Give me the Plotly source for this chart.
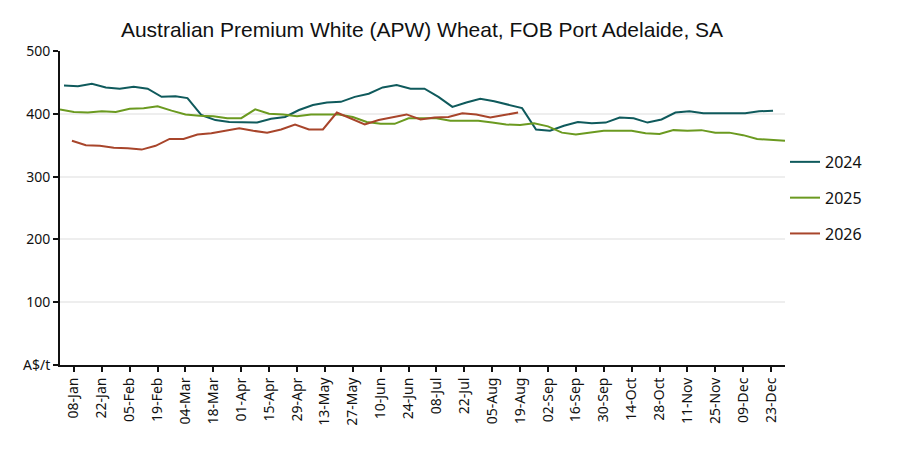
import pandas as pd
import plotly.graph_objects as go

# Weekly prices (A$/t)
apw_2024 = [445, 444, 448, 442, 440, 443, 440, 427, 428, 425,
            398, 390, 387, 386, 386, 392, 395, 406, 414, 418,
            419, 427, 432, 442, 446, 440, 440, 427, 411, 418,
            424, 420, 414, 409, 375, 373, 381, 387, 385, 386,
            394, 393, 386, 391, 402, 404, 401, 401, 401, 401,
            404, 405]
apw_2025 = [407, 403, 402, 404, 403, 408, 409, 412, 405, 399,
            397, 396, 393, 393, 407, 400, 399, 396, 399, 399,
            399, 395, 387, 384, 384, 393, 393, 393, 389, 389,
            389, 386, 383, 382, 385, 380, 370, 367, 370, 373,
            373, 373, 369, 368, 374, 373, 374, 370, 370, 366,
            360, 358, 357]
apw_2026 = [357, 350, 349, 346, 345, 343, 349, 360, 360, 367,
            369, 373, 377, 373, 370, 375, 383, 375, 375, 402,
            392, 383, 390, 395, 399, 391, 394, 395, 401, 399,
            394, 398, 402]

series_names = ["2024", "2025", "2026"]
series_start = ["2024-01-03", "2025-01-01", "2026-01-07"]
series_values = [apw_2024, apw_2025, apw_2026]
series_colors = ["#0f5a5c", "#6b9a20", "#a8452b"]

tick_labels = ["08-Jan", "22-Jan", "05-Feb", "19-Feb", "04-Mar", "18-Mar",
               "01-Apr", "15-Apr", "29-Apr", "13-May", "27-May", "10-Jun",
               "24-Jun", "08-Jul", "22-Jul", "05-Aug", "19-Aug", "02-Sep",
               "16-Sep", "30-Sep", "14-Oct", "28-Oct", "11-Nov", "25-Nov",
               "09-Dec", "23-Dec"]
y_ticks = [0, 100, 200, 300, 400, 500]
y_labels = ["A$/t", "100", "200", "300", "400", "500"]

REF_YEAR = 2025


def to_ref(dates):
    return [d.replace(year=REF_YEAR).strftime("%Y-%m-%d") for d in dates]


fig = go.Figure()
for name, start, vals, col in zip(series_names, series_start, series_values, series_colors):
    dates = pd.date_range(start, periods=len(vals), freq="7D")
    fig.add_trace(go.Scatter(
        x=to_ref(dates), y=vals, mode="lines", name=name,
        line=dict(color=col, width=2), legendgroup=name,
    ))

tick_dates = pd.date_range(f"{REF_YEAR}-01-08", periods=len(tick_labels), freq="14D")

font_family = "Noto Sans, Open Sans, DejaVu Sans, sans-serif"
fig.update_layout(
    width=900, height=450,
    margin=dict(l=52, r=123, t=43, b=93, autoexpand=False),
    paper_bgcolor="white", plot_bgcolor="white",
    title=dict(text="Australian Premium White (APW) Wheat, FOB Port Adelaide, SA",
               x=0.46, xanchor="center", y=0.951, yanchor="middle",
               font=dict(family="Liberation Sans, Arial, sans-serif", size=21, color="#111")),
    font=dict(family=font_family, size=14, color="#111"),
    legend=dict(x=1.0, xanchor="left", y=0.532, yanchor="middle",
                font=dict(size=16, color="#111"), tracegroupgap=12,
                bgcolor="rgba(0,0,0,0)"),
    showlegend=True,
)
fig.update_xaxes(
    type="date", range=[f"{REF_YEAR}-01-01", f"{REF_YEAR}-12-31"],
    tickmode="array", tickvals=[d.strftime("%Y-%m-%d") for d in tick_dates],
    ticktext=tick_labels, tickangle=-90, automargin=False,
    showline=True, linecolor="#111", linewidth=2,
    ticks="outside", ticklen=5, tickcolor="#111", tickwidth=1.5,
    showgrid=False, zeroline=False,
    tickfont=dict(size=14, color="#111"),
)
fig.update_yaxes(
    range=[0, 500], tickmode="array", tickvals=y_ticks, ticktext=y_labels,
    automargin=False,
    showline=True, linecolor="#111", linewidth=2,
    ticks="outside", ticklen=5, tickcolor="#111", tickwidth=1.5,
    showgrid=True, gridcolor="#eeeeee", gridwidth=1.5, zeroline=False,
    tickfont=dict(size=14, color="#111"),
)

fig.write_html("out.html")
